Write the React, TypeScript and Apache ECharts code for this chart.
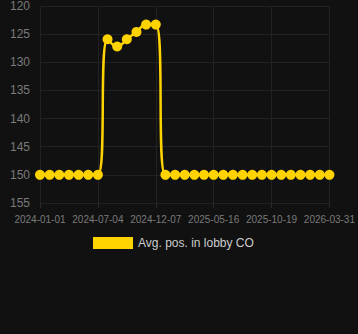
import React, { useEffect, useRef } from "react";
import * as echarts from "echarts";

const categories: string[] = [
  "2024-01-01", "2024-02-01", "2024-03-01", "2024-04-01", "2024-05-01", "2024-06-01",
  "2024-07-04", "2024-08-01", "2024-09-01", "2024-10-01", "2024-11-01", "2024-11-15",
  "2024-12-07", "2025-01-01", "2025-02-01", "2025-03-01", "2025-04-01", "2025-05-01",
  "2025-05-16", "2025-06-01", "2025-07-01", "2025-08-01", "2025-09-01", "2025-10-01",
  "2025-10-19", "2025-11-15", "2025-12-15", "2026-01-15", "2026-02-15", "2026-03-15",
  "2026-03-31",
];

const avgPos: number[] = [
  150, 150, 150, 150, 150, 150, 150,
  125.9, 127.2, 125.9, 124.6, 123.3, 123.3,
  150, 150, 150, 150, 150, 150, 150, 150, 150, 150, 150, 150, 150, 150, 150, 150, 150, 150,
];

const seriesName = "Avg. pos. in lobby CO";

export default function App() {
  const ref = useRef<HTMLDivElement>(null);
  useEffect(() => {
    document.body.style.margin = "0";
    const chart = echarts.init(ref.current!, null, { renderer: "svg" });
    chart.setOption({
      animation: false,
      backgroundColor: "#111111",
      grid: { left: 40, right: 28, top: 6, bottom: 131 },
      legend: {
        data: [{ name: seriesName, icon: "rect" }],
        top: 232,
        left: 88,
        itemWidth: 40,
        itemHeight: 12,
        itemGap: 10,
        textStyle: { color: "#cccccc", fontSize: 12 },
      },
      xAxis: {
        type: "category",
        data: categories,
        boundaryGap: false,
        axisLine: { show: false },
        axisTick: { show: true, interval: 5, lineStyle: { color: "#2a2a2a" } },
        axisLabel: { color: "#7a7a7a", fontSize: 10, interval: 5, margin: 11 },
        splitLine: { show: true, interval: 5, lineStyle: { color: "#222222" } },
      },
      yAxis: {
        type: "value",
        inverse: true,
        min: 120,
        max: 155,
        interval: 5,
        axisLine: { show: false },
        axisTick: { show: false },
        axisLabel: { color: "#7a7a7a", fontSize: 12, margin: 10 },
        splitLine: { lineStyle: { color: "#222222" } },
      },
      series: [
        {
          name: seriesName,
          type: "line",
          data: avgPos,
          smooth: true,
          showAllSymbol: true,
          symbol: "circle",
          symbolSize: 10,
          itemStyle: { color: "#FFD300" },
          lineStyle: { color: "#FFD300", width: 2.5 },
        },
      ],
    });
    return () => chart.dispose();
  }, []);
  return <div ref={ref} style={{ width: 358, height: 334 }} />;
}
